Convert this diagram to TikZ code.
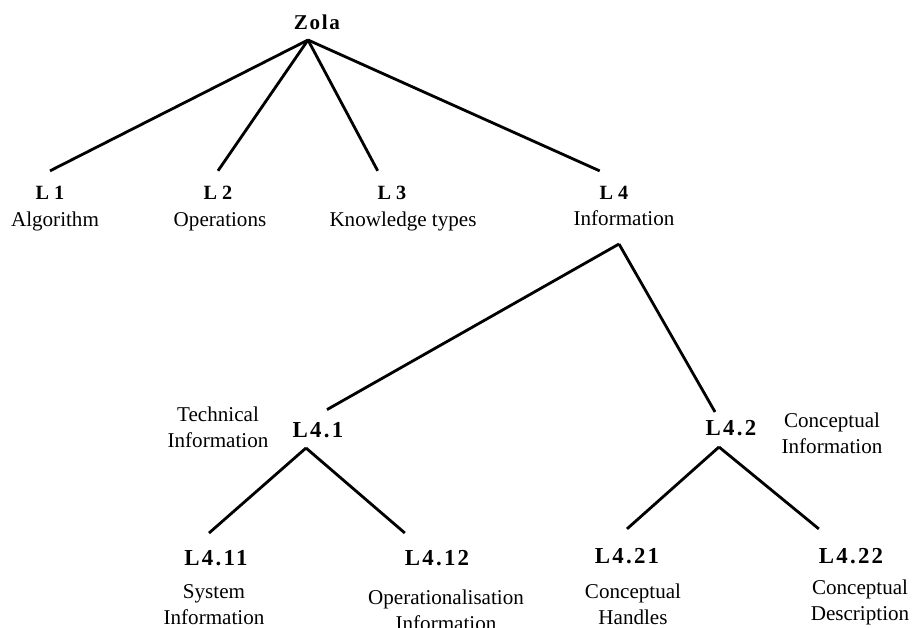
\documentclass[tikz,border=0pt]{standalone}
\usepackage{fontspec}
\setmainfont{Liberation Serif}

\begin{document}
\begin{tikzpicture}[x=0.02cm,y=-0.02cm,line width=1.6pt,
  root/.style={anchor=base,inner sep=0pt,outer sep=0pt,outer ysep=6pt,
    font=\fontsize{12}{14}\selectfont\bfseries\addfontfeature{LetterSpace=8}},
  lev/.style={anchor=base,inner sep=0pt,outer sep=0pt,outer ysep=9pt,
    font=\fontsize{11.5}{13}\selectfont\bfseries},
  sub/.style={anchor=base,inner sep=0pt,outer sep=0pt,outer ysep=9.6pt,
    font=\fontsize{13}{15}\selectfont\bfseries\addfontfeature{LetterSpace=10}},
  desc/.style={anchor=base,inner sep=0pt,align=center,
    font=\fontsize{12}{14.7}\selectfont}]
%%Location
\useasboundingbox (0,0) rectangle (916,628);

%%Root
\draw (317,30) node [root] (zola) {Zola};
\coordinate (zolaJ) at (308,40);

%%First level
\draw (50,200) node [lev] (l1) {L 1};
\draw (218,200) node [lev] (l2) {L 2};
\draw (392,200) node [lev] (l3) {L 3};
\draw (614,200) node [lev] (l4) {L 4};
\draw (55,227) node [desc] (d1) {Algorithm};
\draw (220,227) node [desc] (d2) {Operations};
\draw (403,227) node [desc] (d3) {Knowledge types};
\draw (624,226) node [desc] (d4) {Information};

\draw (zolaJ) -- (l1.north);
\draw (zolaJ) -- (l2.north);
\draw (zolaJ) -- (l3.north west);
\draw (zolaJ) -- (l4.north west);

%%Second level
\coordinate (l4J) at (619,244);
\draw (318,437) node [sub,outer ysep=7pt] (l41) {L4.1};
\draw (731,435) node [sub,outer ysep=4.5pt] (l42) {L4.2};
\draw (218,447) node [desc] (d41) {Technical\\Information};
\draw (832,453) node [desc] (d42) {Conceptual\\Information};

\draw (l4J) -- ([xshift=.18cm]l41.north);
\draw (l4J) -- ([xshift=-.32cm]l42.north);

%%Third level
\coordinate (l41J) at (306,448);
\coordinate (l42J) at (719,447);
\draw (216,565) node [sub] (l411) {L4.11};
\draw (437,565) node [sub] (l412) {L4.12};
\draw (627,563) node [sub,outer ysep=10.8pt] (l421) {L4.21};
\draw (851,563) node [sub,outer ysep=10.8pt] (l422) {L4.22};
\draw (214,624) node [desc] (d411) {System\\Information};
\draw (446,630) node [desc] (d412) {Operationalisation\\Information};
\draw (633,624) node [desc] (d421) {Conceptual\\Handles};
\draw (860,620) node [desc] (d422) {Conceptual\\Description};

\draw (l41J) -- ([xshift=-.14cm]l411.north);
\draw (l41J) -- (l412.north west);
\draw (l42J) -- (l421.north);
\draw (l42J) -- (l422.north west);

\end{tikzpicture}
\end{document}
